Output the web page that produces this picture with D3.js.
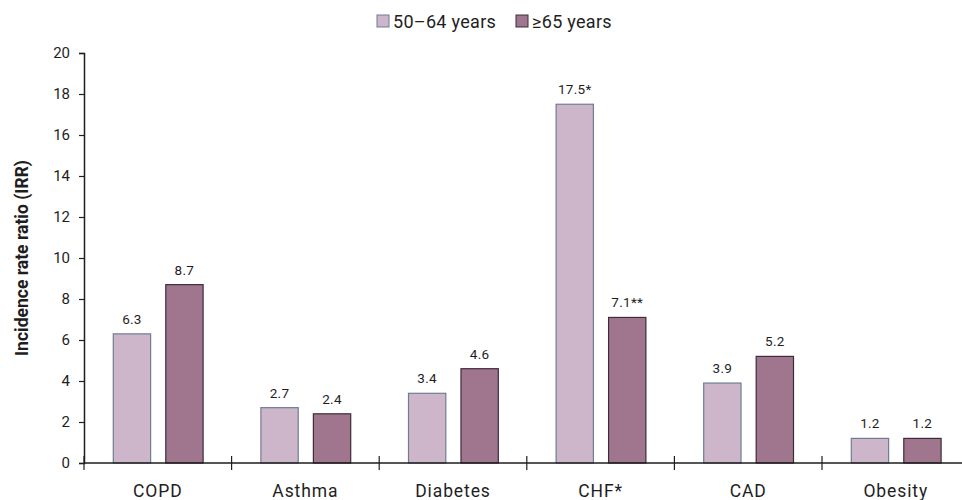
<!DOCTYPE html>
<html>
<head>
<meta charset="utf-8">
<script src="https://cdn.jsdelivr.net/npm/d3@7"></script>
<style>
  html, body { margin: 0; padding: 0; background: #fff; }
  svg { display: block; font-family: Roboto, "Noto Sans", sans-serif; }
</style>
</head>
<body>
<svg id="chart" width="962" height="500"></svg>
<script>
// Conditions compared on the x axis
const categories = ["COPD", "Asthma", "Diabetes", "CHF*", "CAD", "Obesity"];
// Age groups (series)
const seriesNames = ["50\u201364 years", "\u226565 years"];
// Incidence rate ratios per series
const irr50to64 = [6.3, 2.7, 3.4, 17.5, 3.9, 1.2];
const irr65plus = [8.7, 2.4, 4.6, 7.1, 5.2, 1.2];
// Extra marks appended to value labels
const suffix50to64 = ["", "", "", "*", "", ""];
const suffix65plus = ["", "", "", "**", "", ""];
// Y axis ticks
const yTicks = [0, 2, 4, 6, 8, 10, 12, 14, 16, 18, 20];

const fills = ["#cdb6c9", "#a0768f"];
const strokes = ["#6f7d93", "#3d2c37"];
const ink = "#1e1e1e";

const svg = d3.select("#chart");
const plot = { left: 84, right: 969.6, top: 53, bottom: 463 };

const x = d3.scaleBand().domain(categories).range([plot.left, plot.right]);
const xInner = d3.scaleBand().domain(seriesNames)
  .range([28.8, x.bandwidth() - 28]).paddingInner(0.27).paddingOuter(0);
const y = d3.scaleLinear().domain([0, 20]).range([plot.bottom, plot.top]);

const rows = categories.map((c, i) => ({
  category: c,
  values: [
    { s: seriesNames[0], v: irr50to64[i], label: irr50to64[i].toFixed(1) + suffix50to64[i], k: 0 },
    { s: seriesNames[1], v: irr65plus[i], label: irr65plus[i].toFixed(1) + suffix65plus[i], k: 1 }
  ]
}));

// Bars
const groups = svg.append("g").selectAll("g").data(rows).join("g")
  .attr("transform", d => `translate(${x(d.category)},0)`);

groups.selectAll("rect").data(d => d.values).join("rect")
  .attr("x", d => xInner(d.s) + 0.5)
  .attr("width", xInner.bandwidth() - 1)
  .attr("y", d => y(d.v))
  .attr("height", d => y(0) - y(d.v))
  .attr("fill", d => fills[d.k])
  .attr("stroke", d => strokes[d.k])
  .attr("stroke-width", 1.2);

groups.selectAll("text").data(d => d.values).join("text")
  .attr("x", d => xInner(d.s) + xInner.bandwidth() / 2)
  .attr("y", d => y(d.v) - 10)
  .attr("text-anchor", "middle")
  .attr("font-size", 13.5)
  .attr("letter-spacing", 0.3)
  .attr("fill", ink)
  .text(d => d.label);

// Y axis
const yAxis = svg.append("g")
  .attr("transform", `translate(${plot.left},0)`)
  .call(d3.axisLeft(y).tickValues(yTicks).tickSize(5).tickPadding(9));
yAxis.select(".domain").attr("stroke", ink).attr("stroke-width", 1.5);
yAxis.selectAll(".tick line").attr("stroke", ink).attr("stroke-width", 1.2);
yAxis.selectAll(".tick text").attr("font-size", 15).attr("fill", ink)
  .attr("font-family", "Roboto, sans-serif");

// X axis with ticks at band boundaries crossing the baseline
const xg = svg.append("g");
xg.append("line")
  .attr("x1", plot.left).attr("x2", plot.right)
  .attr("y1", y(0)).attr("y2", y(0))
  .attr("stroke", ink).attr("stroke-width", 1.5);
xg.selectAll("line.tick").data(categories).join("line")
  .attr("class", "tick")
  .attr("x1", d => x(d)).attr("x2", d => x(d))
  .attr("y1", y(0) - 7).attr("y2", y(0) + 7)
  .attr("stroke", ink).attr("stroke-width", 1.2);
xg.selectAll("text").data(categories).join("text")
  .attr("x", d => x(d) + x.bandwidth() / 2)
  .attr("y", 497)
  .attr("text-anchor", "middle")
  .attr("font-size", 17.5)
  .attr("letter-spacing", 0.9)
  .attr("fill", ink)
  .text(d => d);

// Y axis title
svg.append("text")
  .attr("transform", `translate(28,${(plot.top + plot.bottom) / 2}) rotate(-90)`)
  .attr("text-anchor", "middle")
  .attr("font-size", 17.5)
  .attr("font-weight", "bold")
  .attr("fill", ink)
  .text("Incidence rate ratio (IRR)");

// Legend
const legendX = [377, 516];
const legend = svg.append("g").selectAll("g").data(seriesNames).join("g")
  .attr("transform", (d, i) => `translate(${legendX[i]},15)`);
legend.append("rect")
  .attr("width", 12).attr("height", 12)
  .attr("fill", (d, i) => fills[i])
  .attr("stroke", (d, i) => strokes[i]).attr("stroke-width", 1);
legend.append("text")
  .attr("x", 16).attr("y", 12.5)
  .attr("font-size", 18)
  .attr("letter-spacing", 0.3)
  .attr("fill", ink)
  .text(d => d);
</script>
</body>
</html>
